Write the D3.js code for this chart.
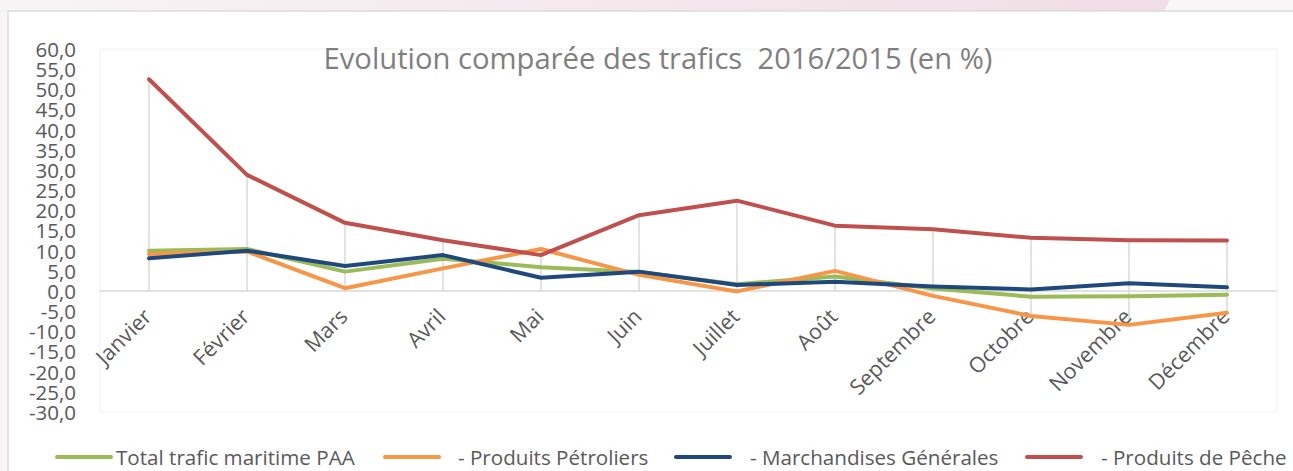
<!DOCTYPE html>
<html><head><meta charset="utf-8">
<script src="https://cdn.jsdelivr.net/npm/d3@7"></script>
<style>body{margin:0;background:#fff}svg{display:block}text{font-variant-ligatures:none}</style>
</head><body><svg id="c" width="1293" height="471"></svg>
<script>
const months = ["Janvier","Février","Mars","Avril","Mai","Juin","Juillet","Août","Septembre","Octobre","Novembre","Décembre"];
const totalPAA = [10.0,10.4,4.8,8.0,5.9,4.7,1.7,3.6,0.6,-1.4,-1.3,-0.9];
const petroliers = [9.2,9.8,0.7,5.6,10.4,4.0,-0.1,5.0,-1.2,-6.2,-8.4,-5.4];
const marchandises = [8.1,10.0,6.2,8.9,3.3,4.8,1.5,2.3,1.1,0.4,1.9,0.9];
const peche = [52.5,28.8,16.9,12.6,8.9,18.8,22.4,16.2,15.3,13.2,12.6,12.5];
const yTicks = [60,55,50,45,40,35,30,25,20,15,10,5,0,-5,-10,-15,-20,-25,-30];
const seriesNames = ["Total trafic maritime PAA","- Produits Pétroliers","- Marchandises Générales","- Produits de Pêche"];
const seriesColors = ["#9bbb59","#f79646","#1f497d","#c0504d"];
const title = "Evolution comparée des trafics  2016/2015 (en %)";

const series = [totalPAA, petroliers, marchandises, peche];
const svg = d3.select("#c");
const FONT = "'Open Sans', Lato, sans-serif";

// background
const defs = svg.append("defs");
const g1 = defs.append("linearGradient").attr("id","bg").attr("x1","0").attr("x2","1");
g1.append("stop").attr("offset","0").attr("stop-color","#f8f4f6");
g1.append("stop").attr("offset","1").attr("stop-color","#f1dde5");
svg.append("rect").attr("width",1293).attr("height",471).attr("fill","#f9f6f7");
svg.append("path").attr("d","M0,0H1170L1163,12H0Z").attr("fill","url(#bg)");
svg.append("rect").attr("x",8).attr("y",11).attr("width",1300).attr("height",480)
  .attr("fill","#fff").attr("stroke","#dcdcdc").attr("stroke-width",1.5);

const x = d3.scaleBand().domain(months).range([100,1276]);
const y = d3.scaleLinear().domain([-30,60]).range([412,49]);
const cx = m => x(m) + x.bandwidth()/2;

// plot area border
svg.append("rect").attr("x",100).attr("y",49).attr("width",1177).attr("height",363)
  .attr("fill","none").attr("stroke","#f2f2f2").attr("stroke-width",1);

// drop lines
months.forEach((m,i)=>{
  const vals = series.map(s=>s[i]);
  const hi = Math.max(0,d3.max(vals)), lo = Math.min(0,d3.min(vals));
  svg.append("line").attr("x1",cx(m)).attr("x2",cx(m)).attr("y1",y(hi)).attr("y2",y(lo))
    .attr("stroke","#d9d9d9").attr("stroke-width",1.5);
});

// zero axis line
svg.append("line").attr("x1",100).attr("x2",1277).attr("y1",y(0)).attr("y2",y(0))
  .attr("stroke","#d9d9d9").attr("stroke-width",1.5);

// y axis labels
const yAxis = d3.axisLeft(y).tickValues(yTicks).tickSize(0).tickPadding(0)
  .tickFormat(d => d3.format(".1f")(d).replace(".",",").replace("−","-"));
const ya = svg.append("g").attr("transform","translate(76,0)").call(yAxis);
ya.select(".domain").remove();
ya.selectAll("text").attr("font-family",FONT).attr("font-size",20.5).attr("fill","#595959")
  .attr("dy","0.36em");

// x labels
const xa = svg.append("g").attr("transform",`translate(0,${y(0)})`)
  .call(d3.axisBottom(x).tickSize(0).tickPadding(0));
xa.select(".domain").remove();
xa.selectAll("text").attr("font-family",FONT).attr("font-size",21.5).attr("fill","#595959")
  .attr("text-anchor","end").attr("dy",0)
  .attr("transform","translate(4,27) rotate(-45)");

// lines
const line = d3.line().x((d,i)=>cx(months[i])).y(d=>y(d));
series.forEach((s,k)=>{
  svg.append("path").datum(s).attr("d",line).attr("fill","none")
    .attr("stroke",seriesColors[k]).attr("stroke-width",4)
    .attr("stroke-linejoin","round").attr("stroke-linecap","round");
});

// title
svg.append("text").attr("x",658).attr("y",69).attr("text-anchor","middle")
  .attr("font-family",FONT).attr("font-size",29.2).attr("fill","#7f7f7f")
  .style("white-space","pre").text(title);

// legend
const legX = [57,385,676,1027];
const legTextOff = [59,73,74,74];
const leg = svg.append("g");
seriesNames.forEach((n,k)=>{
  leg.append("line").attr("x1",legX[k]).attr("x2",legX[k]+54).attr("y1",457).attr("y2",457)
    .attr("stroke",seriesColors[k]).attr("stroke-width",4).attr("stroke-linecap","round");
  leg.append("text").attr("x",legX[k]+legTextOff[k]).attr("y",465).attr("font-family",FONT).attr("font-size",20.6)
    .attr("fill","#595959").style("white-space","pre").text(n);
});
</script></body></html>
